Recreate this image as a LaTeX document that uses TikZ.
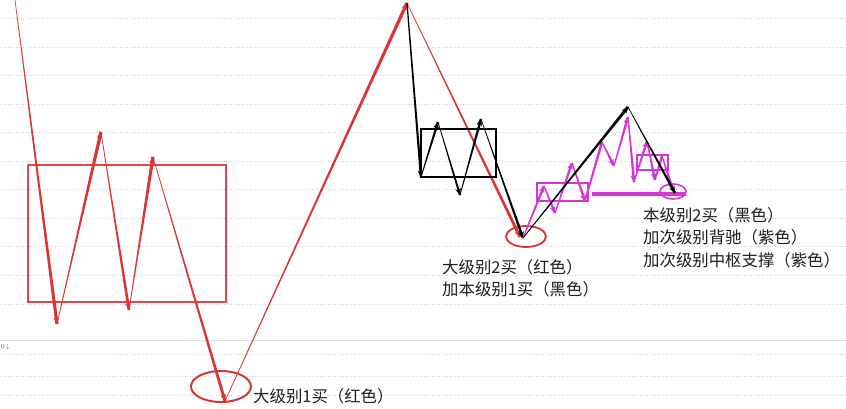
\documentclass[tikz,border=0pt]{standalone}
\usepackage{fontspec}
\newfontfamily\cjk{Noto Sans CJK SC}
\usetikzlibrary{calc,arrows.meta}
\definecolor{cred}{RGB}{218,52,52}
\definecolor{cmag}{RGB}{214,52,214}
\definecolor{ctext}{RGB}{30,30,30}
\definecolor{cgrid}{RGB}{212,212,212}
% tapered segment: color, from, to, start half-width, end half-width
\newcommand\tseg[5]{%
  \fill[#1] ($(#2)!#4!90:(#3)$) -- ($(#2)!#4!-90:(#3)$) --
            ($(#3)!#5!90:(#2)$) -- ($(#3)!#5!-90:(#2)$) -- cycle;}
\newcommand\tarr[5]{%
  \tseg{#1}{#2}{#3}{#4}{#5}%
  \draw[#1, line width=0.1pt, -{Stealth[length=6.5pt,width=5.5pt]}] ($(#3)!2pt!(#2)$) -- (#3);}
\tikzset{
  gridline/.style={cgrid, dotted, line width=0.6pt},
  lbl/.style={anchor=west, inner sep=0pt, text=ctext, font=\cjk\fontsize{16.4}{19}\selectfont},
}
\begin{document}
\begin{tikzpicture}[x=1pt,y=-1pt]
\useasboundingbox (0,0) rectangle (846,409);
\fill[white] (0,0) rectangle (846,409);
% grid
\foreach \yy in {18,47,75,104,132,161,189,218,246,275,304,354,376,395}
  \draw[gridline] (0,\yy) -- (846,\yy);
\draw[cgrid!80, line width=0.6pt] (0,340) -- (846,340);
\node[anchor=west, inner sep=0pt, font=\fontsize{6}{7}\selectfont, text=black!70] (zero) at (1,346.5) {0\,$\downarrow$};
% points
\coordinate (R0) at (15,0);
\coordinate (R1) at (57,324);
\coordinate (R2) at (101,132);
\coordinate (R3) at (129,310);
\coordinate (R4) at (153,157);
\coordinate (R5) at (225,401);
\coordinate (R6) at (407,3);
\coordinate (R7) at (520,237);
\coordinate (B1) at (421,177);
\coordinate (B2) at (438,122);
\coordinate (B3) at (460,195);
\coordinate (B4) at (481,119);
\coordinate (B5) at (523,238);
\coordinate (B6) at (628,107);
\coordinate (B7) at (675,193);
\coordinate (M1) at (544,186);
\coordinate (M2) at (555,213);
\coordinate (M3) at (572,163);
\coordinate (M4) at (585,201);
\coordinate (M5) at (602,142);
\coordinate (M6) at (614,166);
\coordinate (M7) at (628,117);
\coordinate (M8) at (634,182);
\coordinate (M9) at (647,141);
\coordinate (M10) at (655,180);
\coordinate (M11) at (662,156);
\coordinate (M12) at (673,190);
% red shapes
\draw[cred!90!white, line width=2.2pt] (28,165) rectangle (226,302);
\draw[cred, line width=2pt] (221,386.5) ellipse [x radius=30, y radius=15.5];
\draw[cred, line width=1.8pt] (526,236.5) ellipse [x radius=20, y radius=10.5];
% red path
\tarr{cred}{R0}{R1}{0.3pt}{1.6pt}
\tarr{cred}{R1}{R2}{0.3pt}{1.7pt}
\tarr{cred}{R2}{R3}{0.3pt}{1.4pt}
\tarr{cred}{R3}{R4}{0.3pt}{1.7pt}
\tarr{cred}{R4}{R5}{0.3pt}{1.5pt}
\tarr{cred}{R5}{R6}{0.3pt}{1.7pt}
\tarr{cred}{R6}{R7}{0.3pt}{1.5pt}
% black
\draw[black, line width=2.2pt] (421,129) rectangle (496,177);
\tarr{black}{R6}{B1}{0.6pt}{1.2pt}
\tarr{black}{B1}{B2}{0.4pt}{1.3pt}
\tarr{black}{B2}{B3}{0.3pt}{1.1pt}
\tarr{black}{B3}{B4}{0.4pt}{1.3pt}
\tarr{black}{B4}{B5}{0.3pt}{1.3pt}
% magenta
\draw[cmag, line width=2.2pt] (537,183) rectangle (588,201);
\draw[cmag, line width=2.2pt] (637,155) rectangle (668,170);
\draw[cmag, line width=4pt] (592,194) -- (686,194);
\draw[cmag, line width=1.6pt] (673,191.5) ellipse [x radius=13, y radius=7.5];
\tarr{cmag}{B5}{M1}{0.6pt}{1.3pt}
\tarr{cmag}{M1}{M2}{0.6pt}{1.3pt}
\tarr{cmag}{M2}{M3}{0.6pt}{1.3pt}
\tarr{cmag}{M3}{M4}{0.6pt}{1.3pt}
\tseg{cmag}{M4}{M5}{0.8pt}{1.3pt}
\tarr{cmag}{M5}{M6}{0.6pt}{1.3pt}
\tarr{cmag}{M6}{M7}{0.6pt}{1.3pt}
\tarr{cmag}{M7}{M8}{0.6pt}{1.3pt}
\tarr{cmag}{M8}{M9}{0.6pt}{1.3pt}
\tarr{cmag}{M9}{M10}{0.6pt}{1.3pt}
\tseg{cmag}{M10}{M11}{0.8pt}{1.3pt}
\tarr{cmag}{M11}{M12}{0.6pt}{1.3pt}
% black long legs
\tarr{black}{B5}{B6}{0.4pt}{1.5pt}
\tarr{black}{B6}{B7}{0.3pt}{1.3pt}
% labels
\node[lbl] (t1) at (253,396) {大级别1买（红色）};
\node[lbl] (t2) at (442,267) {大级别2买（红色）};
\node[lbl] (t3) at (442,289) {加本级别1买（黑色）};
\node[lbl] (t4) at (643,215) {本级别2买（黑色）};
\node[lbl] (t5) at (643,237) {加次级别背驰（紫色）};
\node[lbl] (t6) at (643,260) {加次级别中枢支撑（紫色）};
\end{tikzpicture}
\end{document}
